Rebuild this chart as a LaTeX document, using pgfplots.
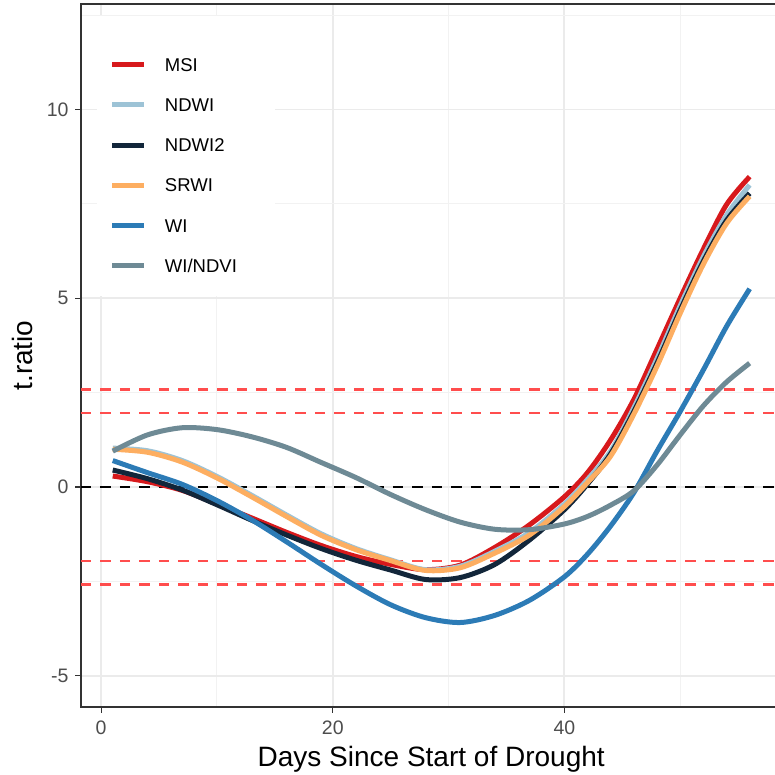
\documentclass[border=0pt]{standalone}
\usepackage{pgfplots}
\usepackage{pgfplotstable}
\pgfplotsset{compat=1.18}
\usepackage{fontspec}
\setmainfont{Liberation Sans}

\definecolor{cMSI}{HTML}{D7191C}
\definecolor{cNDWI}{HTML}{9DC3D6}
\definecolor{cNDWItwo}{HTML}{12263A}
\definecolor{cSRWI}{HTML}{FDAE61}
\definecolor{cWI}{HTML}{2C7BB6}
\definecolor{cWINDVI}{HTML}{6E8A95}
\definecolor{gridmajor}{HTML}{EBEBEB}
\definecolor{gridminor}{HTML}{F2F2F2}
\definecolor{framegrey}{HTML}{333333}
\definecolor{ticktext}{HTML}{4D4D4D}
\definecolor{refline}{HTML}{FF4D4D}

% smoothed t-ratios by index
\pgfplotstableread{
x y
1 0.29
4 0.14
7 -0.09
10 -0.45
13 -0.82
16 -1.20
19 -1.55
22 -1.84
25 -2.05
28 -2.19
31 -2.07
34 -1.60
37 -1.00
40 -0.26
42 0.38
44 1.25
46 2.32
48 3.65
50 5.00
52 6.30
54 7.48
56 8.22
}\msi

\pgfplotstableread{
x y
1 1.03
4 0.96
7 0.70
10 0.28
13 -0.22
16 -0.74
19 -1.24
22 -1.63
25 -1.93
28 -2.19
31 -2.10
34 -1.70
37 -1.20
40 -0.45
42 0.20
44 0.95
46 2.10
48 3.40
50 4.80
52 6.10
54 7.20
56 8.00
}\ndwi

\pgfplotstableread{
x y
1 0.45
4 0.22
7 -0.08
10 -0.47
13 -0.88
16 -1.27
19 -1.63
22 -1.94
25 -2.20
28 -2.45
31 -2.40
34 -2.05
37 -1.40
40 -0.60
42 0.08
44 0.88
46 2.00
48 3.28
50 4.68
52 5.98
54 7.06
56 7.78
}\ndwitwo

\pgfplotstableread{
x y
1 1.00
4 0.92
7 0.66
10 0.24
13 -0.26
16 -0.78
19 -1.28
22 -1.66
25 -1.95
28 -2.21
31 -2.14
34 -1.75
37 -1.27
40 -0.52
42 0.12
44 0.82
46 1.93
48 3.20
50 4.60
52 5.90
54 6.98
56 7.70
}\srwi

\pgfplotstableread{
x y
1 0.70
4 0.38
7 0.07
10 -0.36
13 -0.87
16 -1.45
19 -2.05
22 -2.62
25 -3.12
28 -3.46
31 -3.59
34 -3.40
37 -3.00
40 -2.38
42 -1.78
44 -1.03
46 -0.15
48 0.95
50 2.00
52 3.10
54 4.25
56 5.25
}\wi

\pgfplotstableread{
x y
1 0.95
4 1.38
7 1.57
10 1.52
13 1.33
16 1.05
19 0.65
22 0.25
25 -0.20
28 -0.60
31 -0.93
34 -1.12
37 -1.13
40 -0.98
42 -0.78
44 -0.48
46 -0.10
48 0.58
50 1.38
52 2.15
54 2.78
56 3.28
}\windvi

\begin{document}
\begin{tikzpicture}
\begin{axis}[
  at={(80.9bp,68bp)}, anchor=south west,
  width=700.6bp, height=703bp, scale only axis,
  xmin=-1.75, xmax=58.75, ymin=-5.828, ymax=12.795,
  xtick={0,20,40}, xticklabels={0,20,40},
  ytick={-5,0,5,10}, yticklabels={-5,0,5,10},
  minor xtick={10,30,50}, minor ytick={-2.5,2.5,7.5,12.5},
  grid=both,
  major grid style={gridmajor, line width=1.8bp},
  minor grid style={gridminor, line width=1bp},
  axis line style={framegrey, line width=1.3bp},
  tick pos=left, tick align=outside,
  major tick length=5.5bp, minor tick length=0pt,
  tick style={framegrey, line width=1.3bp},
  tick label style={font=\fontsize{19.5bp}{22bp}\selectfont, text=ticktext},
  xticklabel style={anchor=base, yshift=-22bp},
  yticklabel style={anchor=east, xshift=-3.4bp},
  xlabel={Days Since Start of Drought},
  xlabel style={at={(axis description cs:0.5,-0.0853)}, anchor=base,
    font=\fontsize{28bp}{32bp}\selectfont},
  ylabel={t.ratio},
  ylabel style={at={(axis description cs:-0.0685,0.5)}, anchor=base,
    font=\fontsize{28bp}{32bp}\selectfont},
  legend style={at={(axis description cs:0.0415,0.9232)}, anchor=north west,
    draw=none, fill=none, inner sep=0pt, outer sep=0pt, row sep=26.9bp,
    font=\fontsize{18.5bp}{22bp}\selectfont,
    nodes={inner sep=0pt, text height=13.3bp, text depth=0pt},
    /tikz/every odd column/.append style={column sep=18bp}},
  legend cell align=left,
  legend image code/.code={\draw[#1] (0bp,0bp) -- (32bp,0bp);},
]
% legend background
\fill[white] (axis description cs:0.023,0.5846) rectangle (axis description cs:0.277,0.9829);

% reference levels
\addplot[black, line width=2.3bp, dash pattern=on 10.5bp off 9bp, forget plot]
  coordinates {(-1.75,0) (58.75,0)};
\addplot[refline, line width=2.3bp, dash pattern=on 10.5bp off 9bp, forget plot]
  coordinates {(-1.75,1.96) (58.75,1.96)};
\addplot[refline, line width=2.3bp, dash pattern=on 10.5bp off 9bp, forget plot]
  coordinates {(-1.75,2.58) (58.75,2.58)};
\addplot[refline, line width=2.3bp, dash pattern=on 10.5bp off 9bp, forget plot]
  coordinates {(-1.75,-1.96) (58.75,-1.96)};
\addplot[refline, line width=2.3bp, dash pattern=on 10.5bp off 9bp, forget plot]
  coordinates {(-1.75,-2.58) (58.75,-2.58)};

\addplot[cMSI, line width=5bp, smooth] table {\msi};
\addlegendentry{MSI}
\addplot[cNDWI, line width=5bp, smooth] table {\ndwi};
\addlegendentry{NDWI}
\addplot[cNDWItwo, line width=5bp, smooth] table {\ndwitwo};
\addlegendentry{NDWI2}
\addplot[cSRWI, line width=5bp, smooth] table {\srwi};
\addlegendentry{SRWI}
\addplot[cWI, line width=5bp, smooth] table {\wi};
\addlegendentry{WI}
\addplot[cWINDVI, line width=5bp, smooth] table {\windvi};
\addlegendentry{WI/NDVI}
\end{axis}
\pgfresetboundingbox
\useasboundingbox (0,0) rectangle (775bp,775bp);
\end{tikzpicture}
\end{document}
